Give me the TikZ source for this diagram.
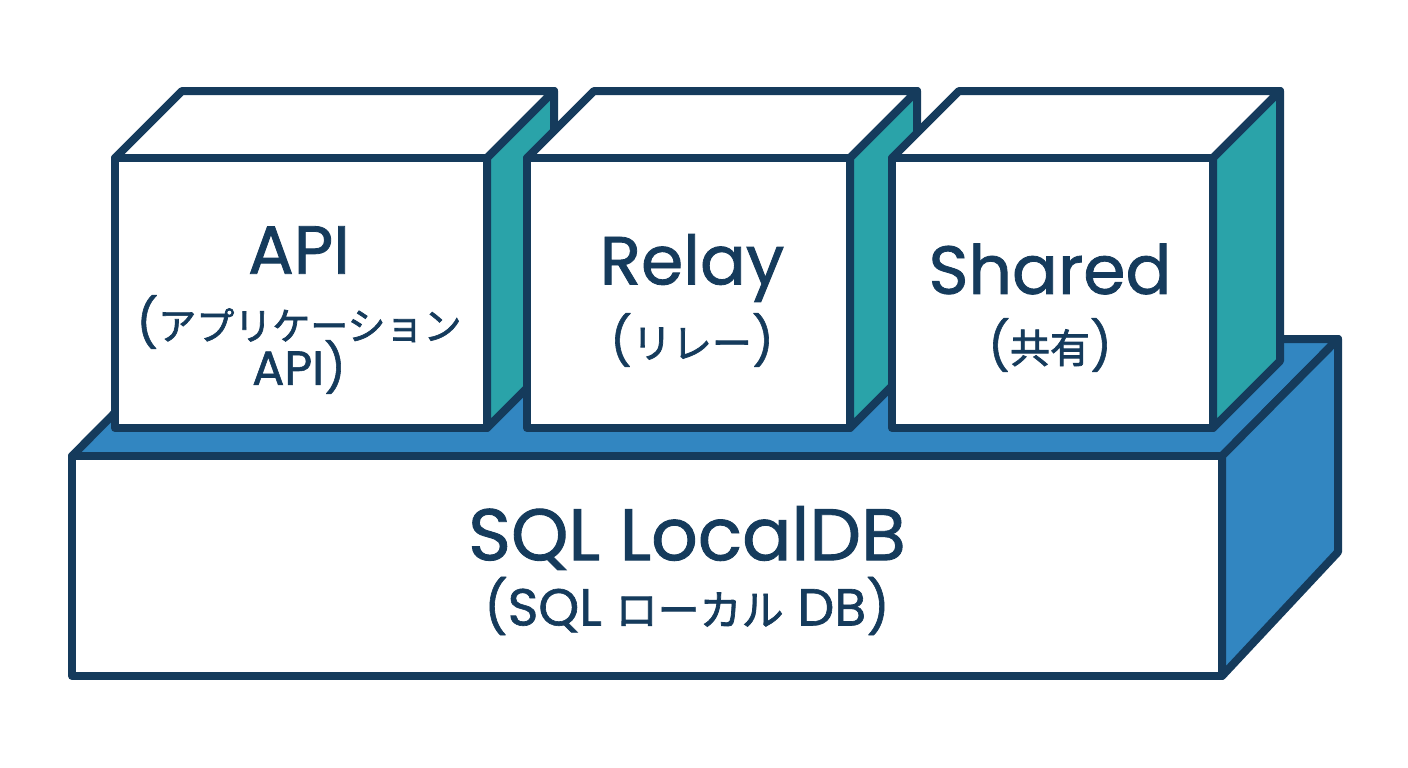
\documentclass[tikz,border=0pt]{standalone}
\usepackage{fontspec}
\setmainfont{Poppins}[FakeBold=1.2]
\newfontfamily\jp{Noto Sans CJK JP}[FakeBold=1.8]
\definecolor{navy}{HTML}{153B5C}
\definecolor{tealf}{HTML}{2AA3A9}
\definecolor{bluef}{HTML}{3286C1}
\tikzset{
  face/.style={draw=navy, line width=8pt, line join=round},
  lbl/.style={text=navy, inner sep=0pt, align=center},
  big/.style={lbl, font=\fontsize{68}{74}\selectfont},
  huge/.style={lbl, font=\fontsize{73}{78}\selectfont},
  small/.style={lbl, font=\fontsize{48}{52}\selectfont},
  smallb/.style={lbl, font=\fontsize{52}{56}\selectfont},
}
\newcommand{\kana}[2][40]{{\jp\fontsize{#1}{44}\selectfont #2}}
\begin{document}
\begin{tikzpicture}[x=1pt, y=-1pt]
\useasboundingbox (0,0) rectangle (1408,768);
\fill[white] (0,0) rectangle (1408,768);
% base
\filldraw[face, fill=bluef] (72,456) -- (188,339) -- (1338,339) -- (1222,456) -- cycle;
\filldraw[face, fill=bluef] (1222,456) -- (1338,339) -- (1338,552) -- (1222,676) -- cycle;
\draw[face, fill=white] (72,456) rectangle (1222,676);
% API cube
\filldraw[face, fill=white] (115,158) -- (182,91) -- (554,91) -- (487,158) -- cycle;
\filldraw[face, fill=tealf] (487,158) -- (554,91) -- (554,361) -- (487,428) -- cycle;
\draw[face, fill=white] (115,158) rectangle (487,428);
% Relay cube
\filldraw[face, fill=white] (527,158) -- (594,91) -- (917,91) -- (850,158) -- cycle;
\filldraw[face, fill=tealf] (850,158) -- (917,91) -- (917,361) -- (850,428) -- cycle;
\draw[face, fill=white] (527,158) rectangle (850,428);
% Shared cube
\filldraw[face, fill=white] (892,158) -- (959,91) -- (1280,91) -- (1213,158) -- cycle;
\filldraw[face, fill=tealf] (1213,158) -- (1280,91) -- (1280,361) -- (1213,428) -- cycle;
\draw[face, fill=white] (892,158) rectangle (1213,428);
% labels
\node[big] (apit) at (299,250) {API};
\node[small] (apij) at (299,322) {(\kana[38]{アプリケーション}};
\node[small] (apij2) at (299,367) {API)};
\node[big] (relt) at (692,268) {Relay};
\node[small] (relj) at (692,340) {(\kana{リレー})};
\node[big] (shat) at (1050,269) {Shared};
\node[small] (shaj) at (1050,345) {(\kana{共有})};
\node[huge] (sqlt) at (687,538) {SQL LocalDB};
\node[smallb] (sqlj) at (687,606) {(SQL \kana[42]{ローカル} DB)};
\end{tikzpicture}
\end{document}
